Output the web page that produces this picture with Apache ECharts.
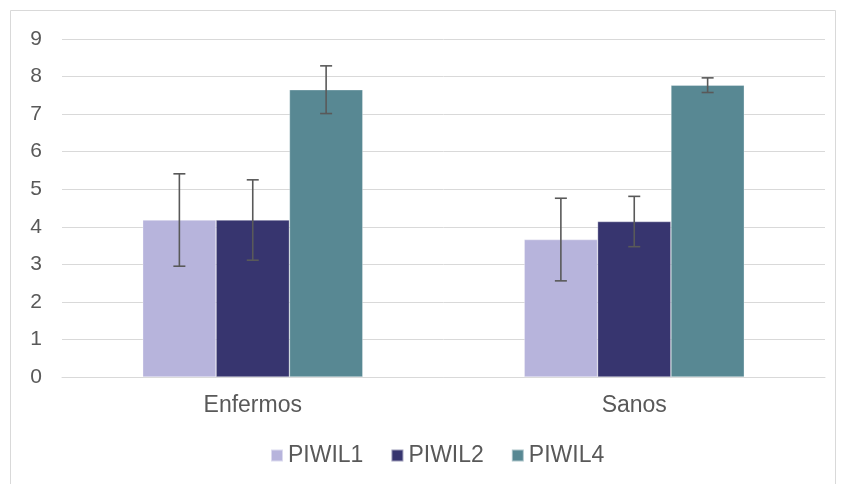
<!DOCTYPE html>
<html>
<head>
<meta charset="utf-8">
<script src="https://cdn.jsdelivr.net/npm/echarts@6/dist/echarts.min.js"></script>
<style>
  html, body { margin: 0; padding: 0; background: #fff; }
  #chart { width: 845px; height: 484px; }
</style>
</head>
<body>
<div id="chart"></div>
<script>
// Expression levels per group with standard deviation
const categories = ['Enfermos', 'Sanos'];
const seriesNames = ['PIWIL1', 'PIWIL2', 'PIWIL4'];
const piwil1 = [4.18, 3.66];
const piwil2 = [4.18, 4.14];
const piwil4 = [7.65, 7.77];
const piwil1Err = [1.23, 1.10];
const piwil2Err = [1.07, 0.67];
const piwil4Err = [0.635, 0.195];
const yTicks = [0, 1, 2, 3, 4, 5, 6, 7, 8, 9];

const colors = ['#b7b4dc', '#37356f', '#588893'];
const values = [piwil1, piwil2, piwil4];
const errors = [piwil1Err, piwil2Err, piwil4Err];
const categoryGap = 0.423;
const font = 'Liberation Sans, Arial, sans-serif';

function errorSeries(k) {
  const data = categories.map((c, i) => [i, values[k][i], errors[k][i]]);
  return {
    type: 'custom',
    name: seriesNames[k] + ' error',
    z: 10,
    silent: true,
    data: data,
    encode: { x: 0, y: 1 },
    renderItem: function (params, api) {
      const idx = api.value(0);
      const v = api.value(1);
      const e = api.value(2);
      const catW = api.size([1, 0])[0];
      const barW = catW * (1 - categoryGap) / 3;
      const center = api.coord([idx, v]);
      const x = center[0] + (k - 1) * barW;
      const top = api.coord([idx, v + e])[1];
      const bot = api.coord([idx, v - e])[1];
      const cap = 6;
      const style = { stroke: '#595959', lineWidth: 1.6 };
      return {
        type: 'group',
        children: [
          { type: 'line', shape: { x1: x, y1: top, x2: x, y2: bot }, style: style },
          { type: 'line', shape: { x1: x - cap, y1: top, x2: x + cap, y2: top }, style: style },
          { type: 'line', shape: { x1: x - cap, y1: bot, x2: x + cap, y2: bot }, style: style }
        ]
      };
    }
  };
}

const barSeries = seriesNames.map((name, k) => ({
  type: 'bar',
  name: name,
  data: values[k],
  barGap: '0%',
  barCategoryGap: (categoryGap * 100) + '%',
  itemStyle: { color: colors[k], borderColor: 'rgba(255,255,255,0.5)', borderWidth: 0.6 }
}));

const chart = echarts.init(document.getElementById('chart'), null, { renderer: 'canvas' });
chart.setOption({
  animation: false,
  backgroundColor: '#ffffff',
  graphic: [{
    type: 'rect',
    shape: { x: 10.5, y: 10.5, width: 825, height: 480 },
    style: { fill: 'none', stroke: '#d9d9d9', lineWidth: 1 },
    silent: true
  }],
  grid: { left: 62, right: 20, top: 39, bottom: 107, containLabel: false },
  legend: {
    data: seriesNames,
    bottom: 12,
    left: 265,
    itemWidth: 12,
    itemHeight: 12,
    itemGap: 27,
    icon: 'rect',
    textStyle: { fontFamily: font, fontSize: 23, color: '#595959' }
  },
  xAxis: {
    type: 'category',
    data: categories,
    axisLine: { show: true, lineStyle: { color: '#d9d9d9', width: 1 } },
    axisTick: { show: false },
    axisLabel: { fontFamily: font, fontSize: 23, color: '#595959', margin: 17 }
  },
  yAxis: {
    type: 'value',
    min: yTicks[0],
    max: yTicks[yTicks.length - 1],
    interval: 1,
    axisLine: { show: false },
    axisTick: { show: false },
    splitLine: { lineStyle: { color: '#d9d9d9', width: 1 } },
    axisLabel: { fontFamily: font, fontSize: 21, color: '#595959', margin: 20 }
  },
  series: barSeries.concat([errorSeries(0), errorSeries(1), errorSeries(2)])
});
</script>
</body>
</html>
